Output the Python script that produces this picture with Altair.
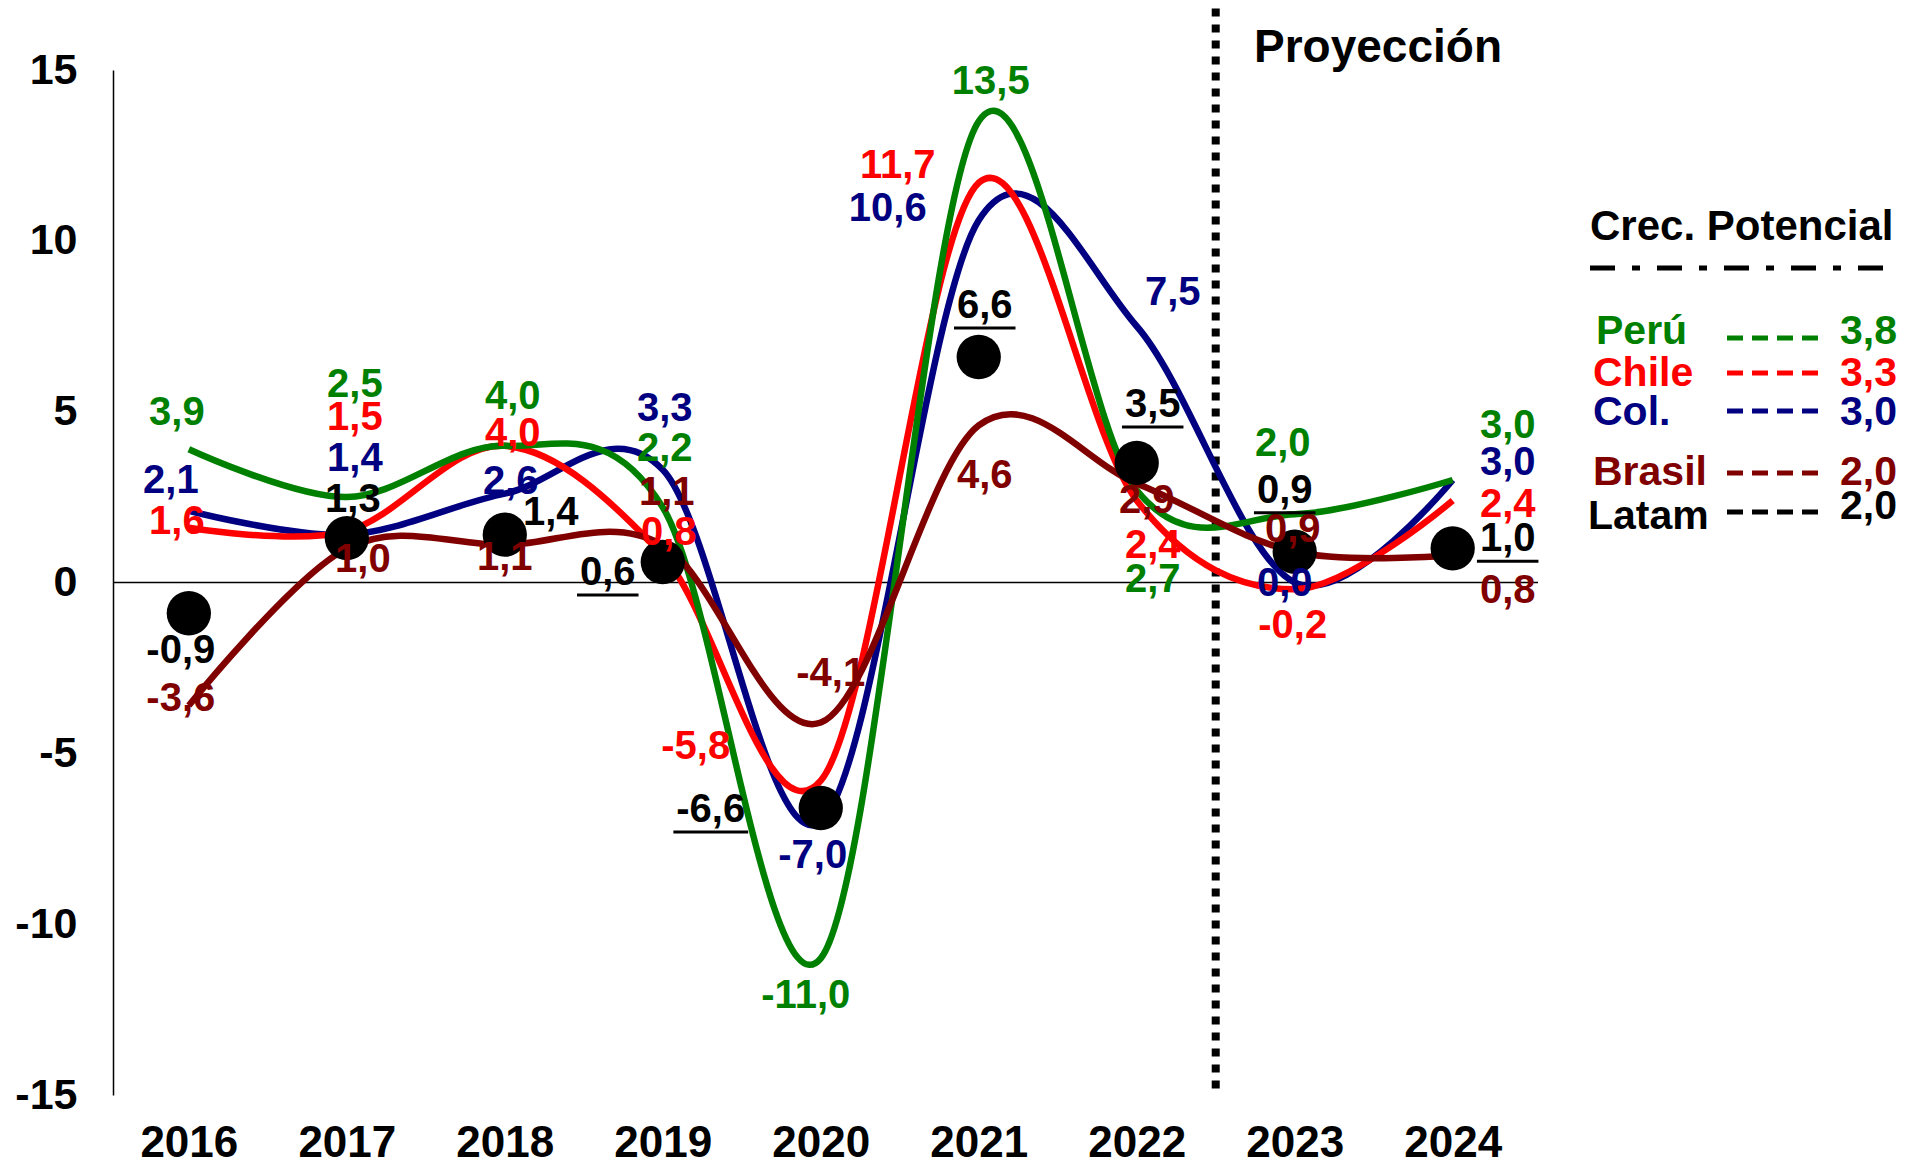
import altair as alt
import pandas as pd

# ---------------- data ----------------
years = [2016, 2017, 2018, 2019, 2020, 2021, 2022, 2023, 2024]
peru = [3.9, 2.5, 4.0, 2.2, -11.0, 13.5, 2.7, 2.0, 3.0]
chile = [1.6, 1.5, 4.0, 0.8, -5.8, 11.7, 2.4, -0.2, 2.4]
col = [2.1, 1.4, 2.6, 3.3, -7.0, 10.6, 7.5, 0.0, 3.0]
brasil = [-3.6, 1.0, 1.1, 1.1, -4.1, 4.6, 2.9, 0.9, 0.8]
latam = [-0.9, 1.3, 1.4, 0.6, -6.6, 6.6, 3.5, 0.9, 1.0]
latam_underlined = [False, False, False, True, True, True, True, True, True]

pot_names = ["Perú", "Chile", "Col.", "Brasil", "Latam"]
pot_values = [3.8, 3.3, 3.0, 2.0, 2.0]
y_ticks = [-15, -10, -5, 0, 5, 10, 15]
proj_label = "Proyección"
pot_title = "Crec. Potencial"

# ---------------- styles / layout ----------------
colors = {"Perú": "#008000", "Chile": "#FF0000", "Col.": "#000080",
          "Brasil": "#800000", "Latam": "#000000"}
FONT = "Liberation Sans"
W, H = 1425, 1025
XDOM = [2015.52, 2024.54]
YDOM = [-15, 15]
PXY = W / (XDOM[1] - XDOM[0])   # px per year
PXV = H / (YDOM[1] - YDOM[0])   # px per unit

# label offsets in pixels (dx, dy) relative to each data point
label_offsets = {
    "Perú": [(-12, -36), (8, -112), (8, -49), (2, -58), (-15, 38), (12, -39), (16, 90), (-12, -70), (55, -54)],
    "Chile": [(-12, -6), (8, -113), (8, -12), (6, -22), (-125, -34), (-81, -17), (16, 45), (-2, 37), (55, 4)],
    "Col.": [(-18, -30), (8, -76), (6, -12), (2, -61), (-8, 34), (-91, -11), (36, -33), (-10, 1), (55, -17)],
    "Brasil": [(-8, -7), (16, 12), (0, 13), (4, -52), (10, -49), (6, 51), (10, 18), (-2, -22), (55, 36)],
    "Latam": [(-8, 38), (6, -38), (46, -22), (-55, 11), (-110, 2), (6, -51), (16, -58), (-10, -61), (55, -9)],
}

series = {"Perú": peru, "Chile": chile, "Col.": col, "Brasil": brasil, "Latam": latam}


def fmt(v):
    return f"{v:.1f}".replace(".", ",")


line_rows = []
for name in ["Col.", "Chile", "Perú", "Brasil"]:
    for yr, v in zip(years, series[name]):
        line_rows.append({"year": yr, "value": v, "serie": name, "color": colors[name]})
lines_df = pd.DataFrame(line_rows)

latam_df = pd.DataFrame({"year": years, "value": latam})

lab_rows = []
ul_rows = []
for name, vals in series.items():
    for i, (yr, v) in enumerate(zip(years, vals)):
        dx, dy = label_offsets[name][i]
        lx = yr + dx / PXY
        ly = v - dy / PXV
        t = fmt(v)
        lab_rows.append({"lx": lx, "ly": ly, "text": t, "color": colors[name]})
        if name == "Latam" and latam_underlined[i]:
            w = sum(13.3 if c == "-" else (11.1 if c == "," else 22.2) for c in t) + 6
            ul_rows.append({"x1": lx - w / 2 / PXY, "x2": lx + w / 2 / PXY, "uy": ly - 22 / PXV})
labels_df = pd.DataFrame(lab_rows)
ul_df = pd.DataFrame(ul_rows)

xs = alt.Scale(domain=XDOM, nice=False, zero=False)
ys = alt.Scale(domain=YDOM, nice=False, zero=False)

X_AXIS = alt.Axis(values=years, labelExpr="'' + datum.value", title=None, grid=False,
                  ticks=False, domain=False, labelFont=FONT, labelFontSize=44,
                  labelFontWeight="bold", labelColor="black", labelPadding=26)
Y_AXIS = alt.Axis(values=y_ticks, labelExpr="'' + datum.value", title=None, grid=False,
                  ticks=False, domain=True, domainColor="black", domainWidth=1.5,
                  labelFont=FONT, labelFontSize=43, labelFontWeight="bold",
                  labelColor="black", labelPadding=36)


def X(field):
    return alt.X(field, scale=xs, axis=X_AXIS, title=None)


def Y(field):
    return alt.Y(field, scale=ys, axis=Y_AXIS, title=None)


zero_df = pd.DataFrame({"x1": [XDOM[0]], "x2": [XDOM[1]], "y": [0]})
zero_line = alt.Chart(zero_df).mark_rule(color="black", strokeWidth=1.5).encode(
    x=X("x1:Q"), x2="x2:Q", y=Y("y:Q"),
)

lines = alt.Chart(lines_df).mark_line(interpolate="cardinal", strokeWidth=6.5, clip=False).encode(
    x=X("year:Q"), y=Y("value:Q"),
    color=alt.Color("color:N", scale=None),
    detail="serie:N",
    order=alt.Order("year:Q"),
)

proj_df = pd.DataFrame({"x": [2022.5], "y1": [16.8], "y2": [-15]})
proj_rule = alt.Chart(proj_df).mark_rule(color="black", strokeWidth=8, strokeDash=[8, 8]).encode(
    x=X("x:Q"), y=Y("y1:Q"), y2="y2:Q",
)

points = alt.Chart(latam_df).mark_point(filled=True, shape="circle", size=1960, color="black", opacity=1).encode(
    x=X("year:Q"), y=Y("value:Q"),
)

texts = alt.Chart(labels_df).mark_text(font=FONT, fontSize=40, fontWeight="bold",
                                       align="center", baseline="middle").encode(
    x=X("lx:Q"), y=Y("ly:Q"),
    text="text:N",
    color=alt.Color("color:N", scale=None),
)

underlines = alt.Chart(ul_df).mark_rule(color="black", strokeWidth=3).encode(
    x=X("x1:Q"), x2="x2:Q", y=Y("uy:Q"),
)

# ---------------- legend block (pixel layout relative to plot origin) ----------------
proj_text = alt.Chart(pd.DataFrame({"t": [proj_label]})).mark_text(
    font=FONT, fontSize=46, fontWeight="bold", align="left", baseline="middle", color="black"
).encode(x=alt.value(1141), y=alt.value(-22), text="t:N")

pot_title_text = alt.Chart(pd.DataFrame({"t": [pot_title]})).mark_text(
    font=FONT, fontSize=42, fontWeight="bold", align="left", baseline="middle", color="black"
).encode(x=alt.value(1477), y=alt.value(157), text="t:N")

pot_rule = alt.Chart(pd.DataFrame({"a": [0]})).mark_rule(
    color="black", strokeWidth=5, strokeDash=[25, 17, 8, 17]
).encode(x=alt.value(1477), x2=alt.value(1772), y=alt.value(198))

name_x = [1483, 1480, 1480, 1480, 1475]
name_y = [262, 304, 343, 403, 447]
dash_y = [268, 303, 341, 403, 442]
val_y = [262, 304, 343, 403, 437]
leg_df = pd.DataFrame({
    "name": pot_names,
    "val": [fmt(v) for v in pot_values],
    "color": [colors[n] for n in pot_names],
    "nx": name_x, "ny": name_y, "dy": dash_y, "vy": val_y,
    "dx1": [1614] * 5, "dx2": [1705] * 5, "vx": [1784] * 5,
})
leg_names = alt.Chart(leg_df).mark_text(font=FONT, fontSize=41, fontWeight="bold",
                                        align="left", baseline="middle").encode(
    x=alt.X("nx:Q", scale=None), y=alt.Y("ny:Q", scale=None), text="name:N",
    color=alt.Color("color:N", scale=None))
leg_vals = alt.Chart(leg_df).mark_text(font=FONT, fontSize=41, fontWeight="bold",
                                       align="right", baseline="middle").encode(
    x=alt.X("vx:Q", scale=None), y=alt.Y("vy:Q", scale=None), text="val:N",
    color=alt.Color("color:N", scale=None))
leg_dash = alt.Chart(leg_df).mark_rule(strokeWidth=5, strokeDash=[16, 9]).encode(
    x=alt.X("dx1:Q", scale=None), x2="dx2:Q", y=alt.Y("dy:Q", scale=None),
    color=alt.Color("color:N", scale=None))

chart = alt.layer(
    zero_line, proj_rule, lines, points, texts, underlines,
    proj_text, pot_title_text, pot_rule, leg_names, leg_vals, leg_dash,
).properties(
    width=W, height=H,
    autosize=alt.AutoSizeParams(type="none"),
    padding={"left": 105, "top": 62, "right": 361, "bottom": 72},
).configure(background="white").configure_view(strokeWidth=0, stroke="transparent")

chart.save("out.html", embed_options={"renderer": "svg", "actions": False})
